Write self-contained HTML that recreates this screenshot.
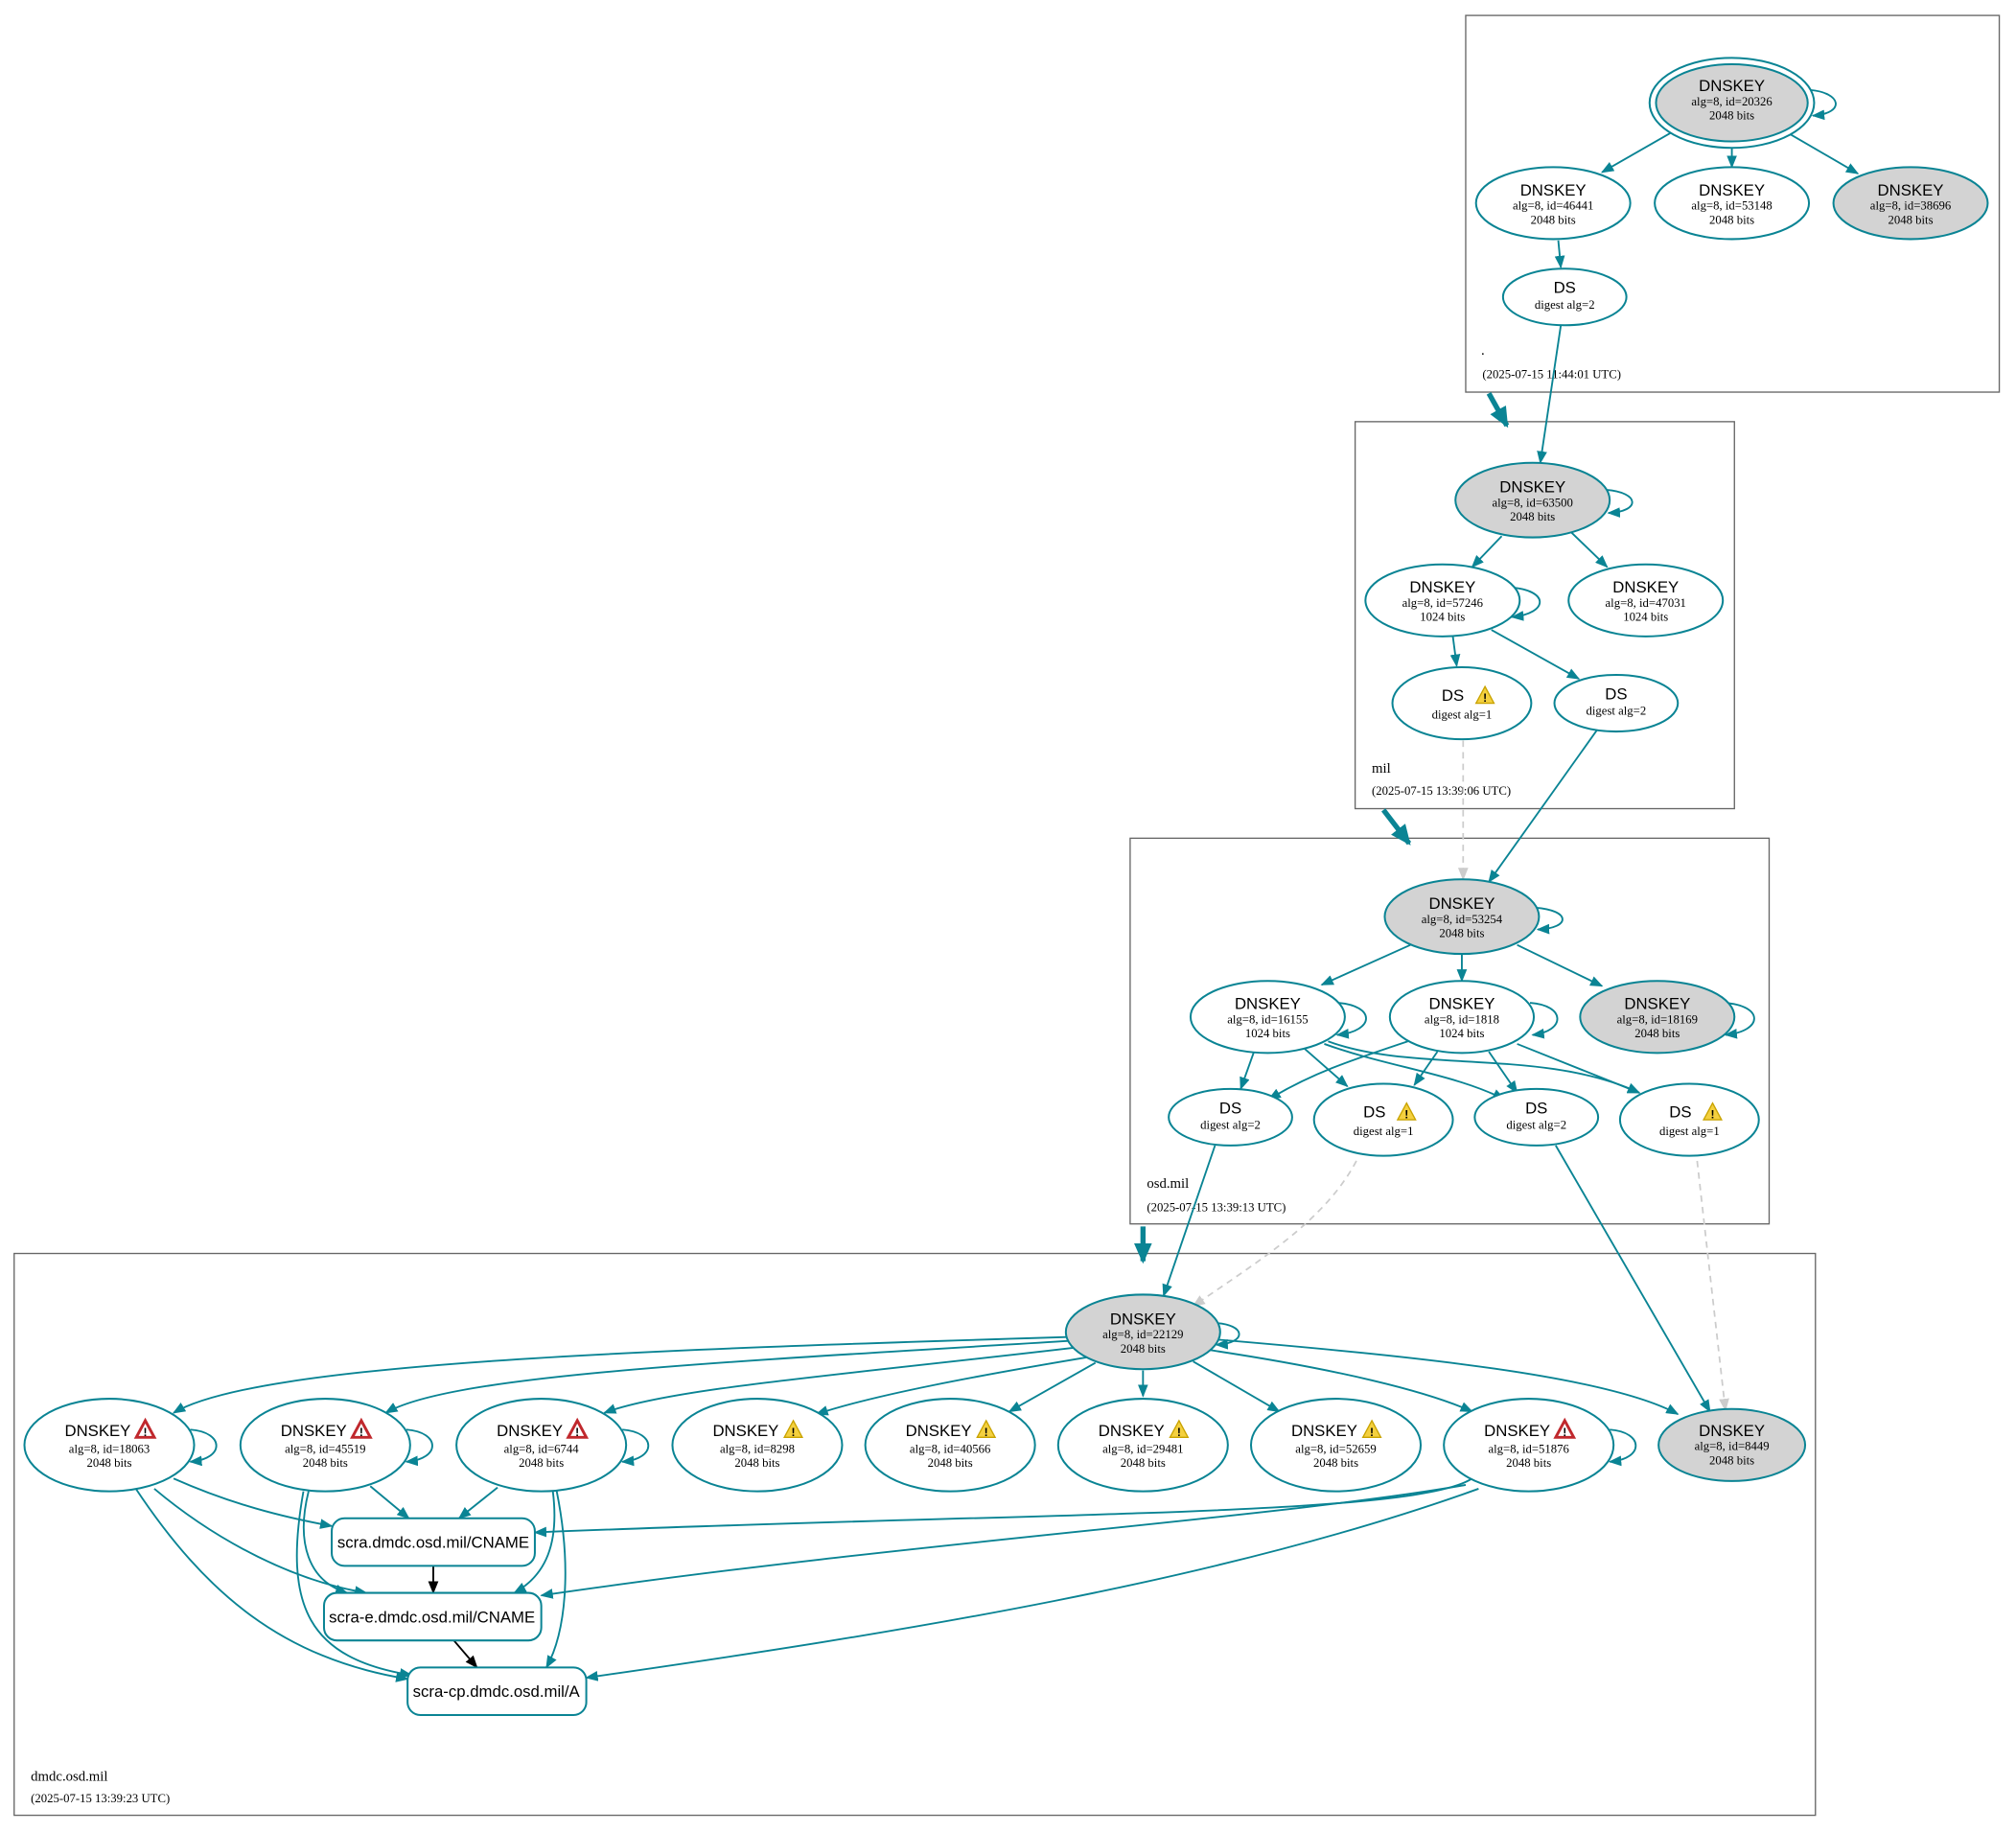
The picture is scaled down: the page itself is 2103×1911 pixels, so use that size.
<!DOCTYPE html>
<html><head><meta charset="utf-8"><style>
html,body{margin:0;padding:0;background:#fff}
svg{display:block}
.t{font-family:"Liberation Sans",sans-serif;font-size:12.5px;fill:#000;text-anchor:middle}
.s{font-family:"Liberation Serif",serif;font-size:9.5px;fill:#000;text-anchor:middle}
.l{font-family:"Liberation Serif",serif;font-size:11px;fill:#000}
.d{font-family:"Liberation Serif",serif;font-size:9.5px;fill:#000}
.n{fill:#fff;stroke:#0a8494;stroke-width:1.5}
.g{fill:#d3d3d3;stroke:#0a8494;stroke-width:1.5}
.e{fill:none;stroke:#0a8494;stroke-width:1.4;marker-end:url(#a)}
.k{fill:none;stroke:#000;stroke-width:1.4;marker-end:url(#b)}
.x{fill:none;stroke:#ccc;stroke-width:1.3;stroke-dasharray:5,4;marker-end:url(#c)}
.T{fill:none;stroke:#0a8494;stroke-width:4;marker-end:url(#A)}
.c{fill:none;stroke:#666;stroke-width:1}
</style></head><body>
<svg width="2103" height="1911" viewBox="0 0 1568 1425" preserveAspectRatio="none" xmlns="http://www.w3.org/2000/svg">
<defs>
<marker id="a" markerWidth="10" markerHeight="8" refX="9" refY="4" orient="auto" markerUnits="userSpaceOnUse"><path d="M0,0L10,4L0,8z" fill="#0a8494"/></marker>
<marker id="A" markerWidth="16" markerHeight="14" refX="14" refY="7" orient="auto" markerUnits="userSpaceOnUse"><path d="M0,0L16,7L0,14z" fill="#0a8494"/></marker>
<marker id="b" markerWidth="10" markerHeight="8" refX="9" refY="4" orient="auto" markerUnits="userSpaceOnUse"><path d="M0,0L10,4L0,8z" fill="#000"/></marker>
<marker id="c" markerWidth="10" markerHeight="8" refX="9" refY="4" orient="auto" markerUnits="userSpaceOnUse"><path d="M0,0L10,4L0,8z" fill="#ccc"/></marker>
<g id="wy"><path d="M0,-7L7,6L-7,6z" fill="#f4d03f" stroke="#c9a300" stroke-width="1"/><text x="0" y="5" font-size="9" font-family="Liberation Sans" text-anchor="middle" font-weight="bold">!</text></g>
<g id="wr"><path d="M0,-7L7,6L-7,6z" fill="#fff" stroke="#c0282d" stroke-width="2.2"/><text x="0" y="5" font-size="9" font-family="Liberation Sans" text-anchor="middle" font-weight="bold">!</text></g>
</defs>
<rect class="c" x="1140" y="12" width="415" height="293"/>
<rect class="c" x="1054" y="328" width="295" height="301"/>
<rect class="c" x="879" y="652" width="497" height="300"/>
<rect class="c" x="11" y="975" width="1401" height="437"/>
<text class="l" x="1152" y="276">.</text><text class="d" x="1153" y="294">(2025-07-15 11:44:01 UTC)</text>
<text class="l" x="1067" y="601">mil</text><text class="d" x="1067" y="618">(2025-07-15 13:39:06 UTC)</text>
<text class="l" x="892" y="924">osd.mil</text><text class="d" x="892" y="942">(2025-07-15 13:39:13 UTC)</text>
<text class="l" x="24" y="1385">dmdc.osd.mil</text><text class="d" x="24" y="1402">(2025-07-15 13:39:23 UTC)</text>
<path class="T" d="M1158,306L1172,331"/>
<path class="T" d="M1076,630L1096,656"/>
<path class="T" d="M889,954L889,981"/>
<path class="e" d="M1300,103L1246,134"/>
<path class="e" d="M1347,110L1347,130"/>
<path class="e" d="M1390,103L1445,135"/>
<path class="e" d="M1408,70C1432,72 1436,88 1410,90"/>
<path class="e" d="M1212,187L1214,208"/>
<path class="e" d="M1214,253L1198,360"/>
<path class="e" d="M1249,381C1276,383 1276,398 1251,399"/>
<path class="e" d="M1168,417L1145,441"/>
<path class="e" d="M1222,414L1250,441"/>
<path class="e" d="M1175,457C1205,459 1205,477 1176,480"/>
<path class="e" d="M1130,495L1133,518"/>
<path class="e" d="M1160,490L1228,528"/>
<path class="x" d="M1138,576L1138,684"/>
<path class="e" d="M1242,568L1158,686"/>
<path class="e" d="M1194,706C1222,708 1222,722 1196,723"/>
<path class="e" d="M1097,735L1028,766"/>
<path class="e" d="M1137,742L1137,763"/>
<path class="e" d="M1180,735L1246,767"/>
<path class="e" d="M1040,780C1070,782 1070,802 1040,805"/>
<path class="e" d="M1190,780C1218,782 1218,802 1192,805"/>
<path class="e" d="M1341,780C1372,782 1372,802 1342,805"/>
<path class="e" d="M975,819L965,847"/>
<path class="e" d="M1015,816L1048,845"/>
<path class="e" d="M1030,812C1080,830 1130,835 1170,855"/>
<path class="e" d="M1033,810C1100,835 1200,815 1275,850"/>
<path class="e" d="M1095,810C1050,825 1020,835 987,855"/>
<path class="e" d="M1118,818L1100,844"/>
<path class="e" d="M1158,818L1180,850"/>
<path class="e" d="M1180,812L1275,850"/>
<path class="e" d="M945,891L905,1008"/>
<path class="x" d="M1055,903C1030,950 980,980 928,1016"/>
<path class="e" d="M1210,891L1330,1098"/>
<path class="x" d="M1320,903L1342,1097"/>
<path class="e" d="M944,1029C970,1030 970,1045 946,1046"/>
<path class="e" d="M830,1040C500,1050 200,1060 135,1099"/>
<path class="e" d="M832,1043C550,1060 350,1070 300,1099"/>
<path class="e" d="M838,1048C650,1070 520,1080 470,1099"/>
<path class="e" d="M850,1055C760,1070 680,1085 635,1100"/>
<path class="e" d="M852,1060L785,1098"/>
<path class="e" d="M889,1066L889,1086"/>
<path class="e" d="M928,1059L995,1098"/>
<path class="e" d="M940,1050C1040,1065 1110,1082 1145,1098"/>
<path class="e" d="M947,1042C1100,1055 1250,1070 1305,1100"/>
<path class="e" d="M148,1112C175,1114 175,1135 148,1137"/>
<path class="e" d="M316,1112C343,1114 343,1135 316,1137"/>
<path class="e" d="M484,1112C511,1114 511,1135 484,1137"/>
<path class="e" d="M1252,1112C1279,1114 1279,1135 1252,1137"/>
<path class="e" d="M135,1150C180,1170 220,1180 258,1187"/>
<path class="e" d="M120,1158C170,1200 230,1230 285,1239"/>
<path class="e" d="M105,1157C160,1240 220,1290 317,1306"/>
<path class="e" d="M288,1156L318,1181"/>
<path class="e" d="M240,1160C230,1200 240,1230 270,1239"/>
<path class="e" d="M236,1160C220,1250 240,1290 320,1303"/>
<path class="e" d="M387,1157L357,1181"/>
<path class="e" d="M430,1160C435,1200 425,1225 400,1239"/>
<path class="e" d="M433,1160C445,1220 440,1270 425,1297"/>
<path class="e" d="M1145,1150C1100,1180 800,1176 416,1192"/>
<path class="e" d="M1140,1155C1000,1180 700,1200 421,1241"/>
<path class="e" d="M1150,1158C950,1230 700,1270 456,1305"/>
<path class="k" d="M337,1218L337,1239"/>
<path class="k" d="M353,1276L371,1297"/>
<ellipse class="n" cx="1347" cy="80" rx="64" ry="35"/>
<ellipse class="g" cx="1347" cy="80" rx="59" ry="30"/>
<text class="t" x="1347" y="71">DNSKEY</text><text class="s" x="1347" y="82">alg=8, id=20326</text><text class="s" x="1347" y="93">2048 bits</text>
<ellipse class="n" cx="1208" cy="158" rx="60" ry="28"/>
<text class="t" x="1208" y="152">DNSKEY</text><text class="s" x="1208" y="163">alg=8, id=46441</text><text class="s" x="1208" y="174">2048 bits</text>
<ellipse class="n" cx="1347" cy="158" rx="60" ry="28"/>
<text class="t" x="1347" y="152">DNSKEY</text><text class="s" x="1347" y="163">alg=8, id=53148</text><text class="s" x="1347" y="174">2048 bits</text>
<ellipse class="g" cx="1486" cy="158" rx="60" ry="28"/>
<text class="t" x="1486" y="152">DNSKEY</text><text class="s" x="1486" y="163">alg=8, id=38696</text><text class="s" x="1486" y="174">2048 bits</text>
<ellipse class="n" cx="1217" cy="231" rx="48" ry="22"/>
<text class="t" x="1217" y="228">DS</text><text class="s" x="1217" y="240">digest alg=2</text>
<ellipse class="g" cx="1192" cy="389" rx="60" ry="29"/>
<text class="t" x="1192" y="383">DNSKEY</text><text class="s" x="1192" y="394">alg=8, id=63500</text><text class="s" x="1192" y="405">2048 bits</text>
<ellipse class="n" cx="1122" cy="467" rx="60" ry="28"/>
<text class="t" x="1122" y="461">DNSKEY</text><text class="s" x="1122" y="472">alg=8, id=57246</text><text class="s" x="1122" y="483">1024 bits</text>
<ellipse class="n" cx="1280" cy="467" rx="60" ry="28"/>
<text class="t" x="1280" y="461">DNSKEY</text><text class="s" x="1280" y="472">alg=8, id=47031</text><text class="s" x="1280" y="483">1024 bits</text>
<ellipse class="n" cx="1137" cy="547" rx="54" ry="28"/>
<text class="t" x="1130" y="545">DS</text><use href="#wy" x="1155" y="541"/><text class="s" x="1137" y="559">digest alg=1</text>
<ellipse class="n" cx="1257" cy="547" rx="48" ry="22"/>
<text class="t" x="1257" y="544">DS</text><text class="s" x="1257" y="556">digest alg=2</text>
<ellipse class="g" cx="1137" cy="713" rx="60" ry="29"/>
<text class="t" x="1137" y="707">DNSKEY</text><text class="s" x="1137" y="718">alg=8, id=53254</text><text class="s" x="1137" y="729">2048 bits</text>
<ellipse class="n" cx="986" cy="791" rx="60" ry="28"/>
<text class="t" x="986" y="785">DNSKEY</text><text class="s" x="986" y="796">alg=8, id=16155</text><text class="s" x="986" y="807">1024 bits</text>
<ellipse class="n" cx="1137" cy="791" rx="56" ry="28"/>
<text class="t" x="1137" y="785">DNSKEY</text><text class="s" x="1137" y="796">alg=8, id=1818</text><text class="s" x="1137" y="807">1024 bits</text>
<ellipse class="g" cx="1289" cy="791" rx="60" ry="28"/>
<text class="t" x="1289" y="785">DNSKEY</text><text class="s" x="1289" y="796">alg=8, id=18169</text><text class="s" x="1289" y="807">2048 bits</text>
<ellipse class="n" cx="957" cy="869" rx="48" ry="22"/>
<text class="t" x="957" y="866">DS</text><text class="s" x="957" y="878">digest alg=2</text>
<ellipse class="n" cx="1076" cy="871" rx="54" ry="28"/>
<text class="t" x="1069" y="869">DS</text><use href="#wy" x="1094" y="865"/><text class="s" x="1076" y="883">digest alg=1</text>
<ellipse class="n" cx="1195" cy="869" rx="48" ry="22"/>
<text class="t" x="1195" y="866">DS</text><text class="s" x="1195" y="878">digest alg=2</text>
<ellipse class="n" cx="1314" cy="871" rx="54" ry="28"/>
<text class="t" x="1307" y="869">DS</text><use href="#wy" x="1332" y="865"/><text class="s" x="1314" y="883">digest alg=1</text>
<ellipse class="g" cx="889" cy="1036" rx="60" ry="29"/>
<text class="t" x="889" y="1030">DNSKEY</text><text class="s" x="889" y="1041">alg=8, id=22129</text><text class="s" x="889" y="1052">2048 bits</text>
<ellipse class="n" cx="85" cy="1124" rx="66" ry="36"/><text class="t" x="76" y="1117">DNSKEY</text><use href="#wr" x="113" y="1112"/><text class="s" x="85" y="1130">alg=8, id=18063</text><text class="s" x="85" y="1141">2048 bits</text>
<ellipse class="n" cx="253" cy="1124" rx="66" ry="36"/><text class="t" x="244" y="1117">DNSKEY</text><use href="#wr" x="281" y="1112"/><text class="s" x="253" y="1130">alg=8, id=45519</text><text class="s" x="253" y="1141">2048 bits</text>
<ellipse class="n" cx="421" cy="1124" rx="66" ry="36"/><text class="t" x="412" y="1117">DNSKEY</text><use href="#wr" x="449" y="1112"/><text class="s" x="421" y="1130">alg=8, id=6744</text><text class="s" x="421" y="1141">2048 bits</text>
<ellipse class="n" cx="589" cy="1124" rx="66" ry="36"/><text class="t" x="580" y="1117">DNSKEY</text><use href="#wy" x="617" y="1112"/><text class="s" x="589" y="1130">alg=8, id=8298</text><text class="s" x="589" y="1141">2048 bits</text>
<ellipse class="n" cx="739" cy="1124" rx="66" ry="36"/><text class="t" x="730" y="1117">DNSKEY</text><use href="#wy" x="767" y="1112"/><text class="s" x="739" y="1130">alg=8, id=40566</text><text class="s" x="739" y="1141">2048 bits</text>
<ellipse class="n" cx="889" cy="1124" rx="66" ry="36"/><text class="t" x="880" y="1117">DNSKEY</text><use href="#wy" x="917" y="1112"/><text class="s" x="889" y="1130">alg=8, id=29481</text><text class="s" x="889" y="1141">2048 bits</text>
<ellipse class="n" cx="1039" cy="1124" rx="66" ry="36"/><text class="t" x="1030" y="1117">DNSKEY</text><use href="#wy" x="1067" y="1112"/><text class="s" x="1039" y="1130">alg=8, id=52659</text><text class="s" x="1039" y="1141">2048 bits</text>
<ellipse class="n" cx="1189" cy="1124" rx="66" ry="36"/><text class="t" x="1180" y="1117">DNSKEY</text><use href="#wr" x="1217" y="1112"/><text class="s" x="1189" y="1130">alg=8, id=51876</text><text class="s" x="1189" y="1141">2048 bits</text>
<ellipse class="g" cx="1347" cy="1124" rx="57" ry="28"/><text class="t" x="1347" y="1117">DNSKEY</text><text class="s" x="1347" y="1128">alg=8, id=8449</text><text class="s" x="1347" y="1139">2048 bits</text>
<rect class="n" x="258" y="1181" width="158" height="37" rx="10"/><text class="t" x="337" y="1204">scra.dmdc.osd.mil/CNAME</text>
<rect class="n" x="252" y="1239" width="169" height="37" rx="10"/><text class="t" x="336" y="1262">scra-e.dmdc.osd.mil/CNAME</text>
<rect class="n" x="317" y="1297" width="139" height="37" rx="10"/><text class="t" x="386" y="1320">scra-cp.dmdc.osd.mil/A</text>
</svg>
</body></html>
